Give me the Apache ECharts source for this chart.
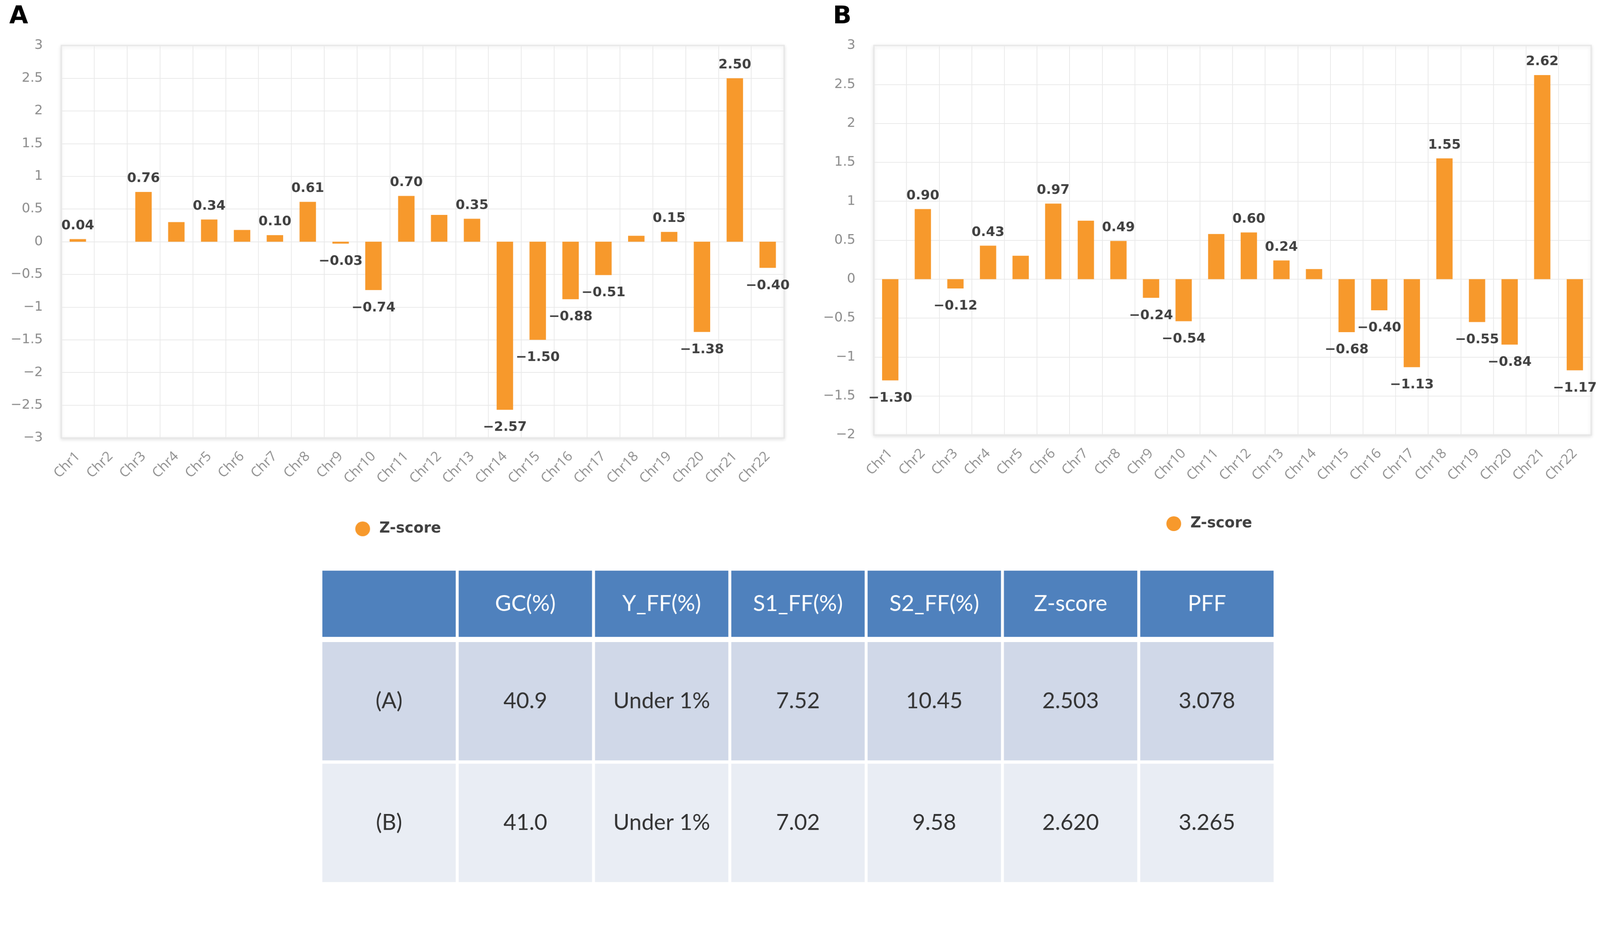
<!DOCTYPE html>
<html>
<head>
<meta charset="utf-8">
<title>Z-score</title>
<script src="https://cdn.jsdelivr.net/npm/echarts@6/dist/echarts.min.js"></script>
<style>
  html, body { margin:0; padding:0; background:#fff; overflow:hidden; }
  #chart { width:4328px; height:2408px; transform-origin:0 0; }
</style>
</head>
<body>
<div id="chart"></div>
<script>
// ====== data ======
const chrs = ['Chr1','Chr2','Chr3','Chr4','Chr5','Chr6','Chr7','Chr8','Chr9','Chr10','Chr11',
              'Chr12','Chr13','Chr14','Chr15','Chr16','Chr17','Chr18','Chr19','Chr20','Chr21','Chr22'];

const zA = [0.04, 0, 0.76, 0.30, 0.34, 0.18, 0.10, 0.61, -0.03, -0.74, 0.70,
            0.41, 0.35, -2.57, -1.50, -0.88, -0.51, 0.09, 0.15, -1.38, 2.50, -0.40];
// which bars carry a value label in panel A
const labelA = [1,0,1,0,1,0,1,1,1,1,1, 0,1,1,1,1,1,0,1,1,1,1];

const zB = [-1.30, 0.90, -0.12, 0.43, 0.30, 0.97, 0.75, 0.49, -0.24, -0.54, 0.58,
            0.60, 0.24, 0.13, -0.68, -0.40, -1.13, 1.55, -0.55, -0.84, 2.62, -1.17];
const labelB = [1,1,1,1,0,1,0,1,1,1,0, 1,1,0,1,1,1,1,1,1,1,1];

const tableCols = ['c0','c1','c2','c3','c4','c5','c6'];
const tableHeader = ['', 'GC(%)', 'Y_FF(%)', 'S1_FF(%)', 'S2_FF(%)', 'Z-score', 'PFF'];
const rowA = ['(A)', '40.9', 'Under 1%', '7.52', '10.45', '2.503', '3.078'];
const rowB = ['(B)', '41.0', 'Under 1%', '7.02', '9.58', '2.620', '3.265'];

// ====== helpers ======
const ORANGE = '#f7992c';
const minus = (s) => String(s).replace('-', '\u2212');

function barData(values, labeled){
  return values.map((v, i) => ({
    value: v,
    label: { show: !!labeled[i], position: v < 0 ? 'bottom' : 'top', distance: v < 0 ? 30 : 18 }
  }));
}

function xAxisFor(gridIndex){
  return {
    type:'category', gridIndex, data: chrs,
    axisLine:{ show:false }, axisTick:{ show:false },
    splitLine:{ show:true, lineStyle:{ color:'#e9e9e9', width:2 } },
    axisLabel:{ interval:0, rotate:45, margin:44, color:'#8f8f8f',
                fontFamily:'Open Sans', fontSize:37 }
  };
}
function yAxisFor(gridIndex, min, max){
  return {
    type:'value', gridIndex, min, max, interval:0.5,
    axisLine:{ show:false }, axisTick:{ show:false },
    splitLine:{ lineStyle:{ color:'#e9e9e9', width:2 } },
    axisLabel:{ margin:50, color:'#8c8c8c', fontFamily:'DejaVu Sans', fontSize:36,
                formatter: v => minus(v) }
  };
}
function barSeries(values, labeled, idx){
  return {
    name:'Z-score', type:'bar', xAxisIndex:idx, yAxisIndex:idx,
    barWidth:'50%', itemStyle:{ color: ORANGE },
    label:{ color:'#404040', fontFamily:'DejaVu Sans', fontWeight:'bold',
            fontSize:36, formatter: p => minus(p.value.toFixed(2)) },
    data: barData(values, labeled)
  };
}

// table cells are drawn on hidden category axes
function tableSeries(idx, rows, fills, textColor){
  const cells = [];
  rows.forEach((r, ri) => r.forEach((t, ci) => cells.push([ci, ri])));
  return {
    type:'custom', xAxisIndex:idx, yAxisIndex:idx, silent:true,
    data: cells,
    renderItem(params, api){
      const ci = api.value(0), ri = api.value(1);
      const c = api.coord([ci, ri]);
      const s = api.size([1, 1]);
      const w = s[0] - 8, h = s[1] - 9;
      return { type:'group', children:[
        { type:'rect', shape:{ x:c[0]-w/2, y:c[1]-h/2, width:w, height:h },
          style:{ fill: fills[ri] } },
        { type:'text', style:{ text: rows[ri][ci], x:c[0], y:c[1], align:'center',
          verticalAlign:'middle', fill:textColor, fontFamily:'Lato', fontSize:60 } }
      ]};
    }
  };
}
function tableX(gridIndex){
  return { type:'category', gridIndex, data: tableCols, show:false };
}
function tableY(gridIndex, n){
  return { type:'category', gridIndex, data: Array.from({length:n}, (_, i) => 'r' + i),
           inverse:true, show:false };
}

// fit the 4328x2408 page into whatever viewport we get
const el = document.getElementById('chart');
const fit = Math.min(window.innerWidth / 4328, window.innerHeight / 2408);
if (fit && Math.abs(fit - 1) > 0.002) el.style.transform = `scale(${fit})`;

const chart = echarts.init(el);
chart.setOption({
  backgroundColor:'#fff',
  animation:false,
  title:[
    { text:'A', left:20, top:8, textStyle:{ fontFamily:'DejaVu Sans', fontWeight:'bold', fontSize:66, color:'#000' } },
    { text:'B', left:2248, top:8, textStyle:{ fontFamily:'DejaVu Sans', fontWeight:'bold', fontSize:66, color:'#000' } }
  ],
  legend:[
    { left:956, top:1405, data:['Z-score'], icon:'circle', itemWidth:40, itemHeight:40,
      selectedMode:false,
      textStyle:{ fontFamily:'DejaVu Sans', fontWeight:'bold', fontSize:40, color:'#404040', padding:[0,0,0,20] } },
    { left:3150, top:1391, data:['Z-score'], icon:'circle', itemWidth:40, itemHeight:40,
      selectedMode:false,
      textStyle:{ fontFamily:'DejaVu Sans', fontWeight:'bold', fontSize:40, color:'#404040', padding:[0,0,0,20] } }
  ],
  grid:[
    { left:166, top:123, width:1955, height:1061, show:true, backgroundColor:'#fff',
      borderColor:'#dcdcdc', borderWidth:3, shadowColor:'rgba(0,0,0,0.10)', shadowBlur:10,
      shadowOffsetY:3, outerBoundsMode:'none' },
    { left:2364, top:123, width:1940, height:1053, show:true, backgroundColor:'#fff',
      borderColor:'#dcdcdc', borderWidth:3, shadowColor:'rgba(0,0,0,0.10)', shadowBlur:10,
      shadowOffsetY:3, outerBoundsMode:'none' },
    { left:868, top:1538.5, width:2581, height:188, outerBoundsMode:'none' },
    { left:868, top:1731.5, width:2581, height:658, outerBoundsMode:'none' }
  ],
  xAxis:[ xAxisFor(0), xAxisFor(1), tableX(2), tableX(3) ],
  yAxis:[ yAxisFor(0, -3, 3), yAxisFor(1, -2, 3), tableY(2, 1), tableY(3, 2) ],
  series:[
    barSeries(zA, labelA, 0),
    barSeries(zB, labelB, 1),
    tableSeries(2, [tableHeader], ['#4f81bd'], '#ffffff'),
    tableSeries(3, [rowA, rowB], ['#d0d8e8', '#e9edf4'], '#333333')
  ]
});
</script>
</body>
</html>
